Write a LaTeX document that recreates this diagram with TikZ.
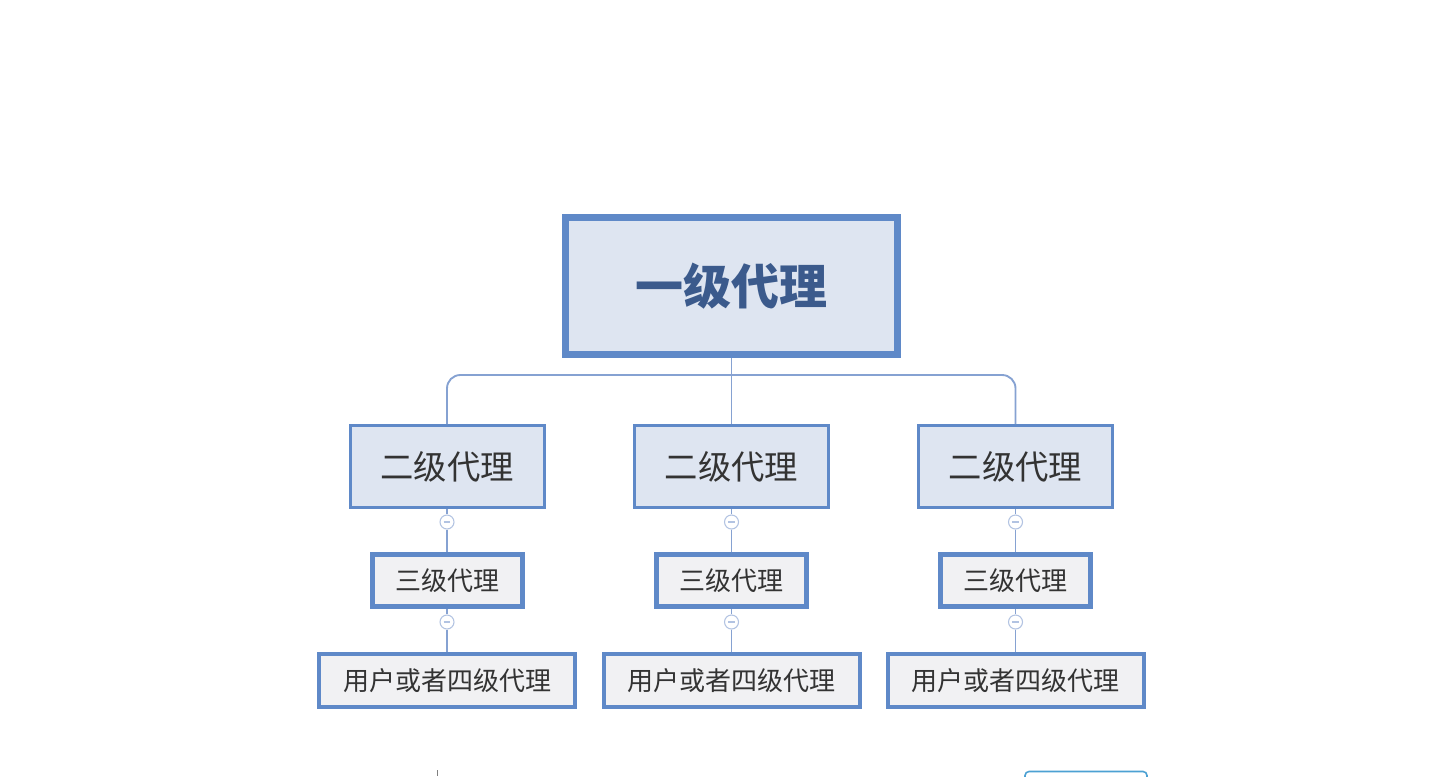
\documentclass[tikz,border=0pt]{standalone}
\usepackage{fontspec}
\newfontfamily\cjk{Noto Sans CJK SC}
\begin{document}
\begin{tikzpicture}[x=0.75pt,y=-0.75pt,
  lvlone/.style={draw=boxblue,fill=fillblue,line width=5.25pt,inner sep=0pt,minimum width=249pt,minimum height=102.75pt,font=\cjk\bfseries\fontsize{36}{40}\selectfont,text=titleblue},
  lvltwo/.style={draw=boxblue,fill=fillblue,line width=2.25pt,inner sep=0pt,minimum width=145.5pt,minimum height=61.5pt,font=\cjk\fontsize{25}{28}\selectfont,text=textgray},
  lvlthree/.style={draw=boxblue,fill=fillgray,line width=3.75pt,inner sep=0pt,minimum width=112.5pt,minimum height=39pt,font=\cjk\fontsize{19.5}{22}\selectfont,text=textgray},
  lvlfour/.style={draw=boxblue,fill=fillgray,line width=3pt,inner sep=0pt,minimum width=192pt,minimum height=39.75pt,font=\cjk\fontsize{19.5}{22}\selectfont,text=textgray},
  conn/.style={draw=linkblue,line width=1.4pt},
  fold/.style={circle,draw=foldblue,fill=white,line width=0.8pt,minimum size=10.5pt,inner sep=0pt,
    path picture={\draw[foldblue,line width=0.8pt] ([xshift=-2.5pt]path picture bounding box.center) -- ([xshift=2.5pt]path picture bounding box.center);}}
]
\definecolor{boxblue}{HTML}{5F89C8}
\definecolor{fillblue}{HTML}{DEE5F1}
\definecolor{fillgray}{HTML}{F1F1F3}
\definecolor{titleblue}{HTML}{3B5A8C}
\definecolor{textgray}{HTML}{333333}
\definecolor{linkblue}{HTML}{86A2D2}
\definecolor{foldblue}{HTML}{B2C3E2}
\fill[white] (0,0) rectangle (1444,776);
\useasboundingbox (0,0) rectangle (1444,776);
\clip (0,0) rectangle (1444,776);

\node[lvlone] (top) at (731.5,286) {一级代理};
\coordinate (j) at (731.5,375);

\foreach \n/\xa in {a/447, b/731.5, c/1015.5}{
  \node[lvltwo] (\n2) at (\xa,466.5) {二级代理};
  \node[lvlthree] (\n3) at (\xa,580.5) {三级代理};
  \node[lvlfour] (\n4) at (\xa,680.5) {用户或者四级代理};
  \node[fold] (\n f1) at (\xa,522) {};
  \node[fold] (\n f2) at (\xa,622) {};
  \draw[conn] (\n2.south) -- (\n f1.north);
  \draw[conn] (\n f1.south) -- (\n3.north);
  \draw[conn] (\n3.south) -- (\n f2.north);
  \draw[conn] (\n f2.south) -- (\n4.north);
}
\draw[conn] (top.south) -- (j);
\draw[conn,rounded corners=10pt] (j) -| (a2.north);
\draw[conn,rounded corners=10pt] (j) -| (c2.north);
\draw[conn] (j) -- (b2.north);

% partial shapes at the bottom edge
\draw[draw=boxblue!80!cyan,line width=1.2pt,rounded corners=3pt] (1025,790) -- (1025,771.5) -- (1147,771.5) -- (1147,790);
\draw[gray,line width=0.8pt] (437.5,770) -- (437.5,776);
\end{tikzpicture}
\end{document}
